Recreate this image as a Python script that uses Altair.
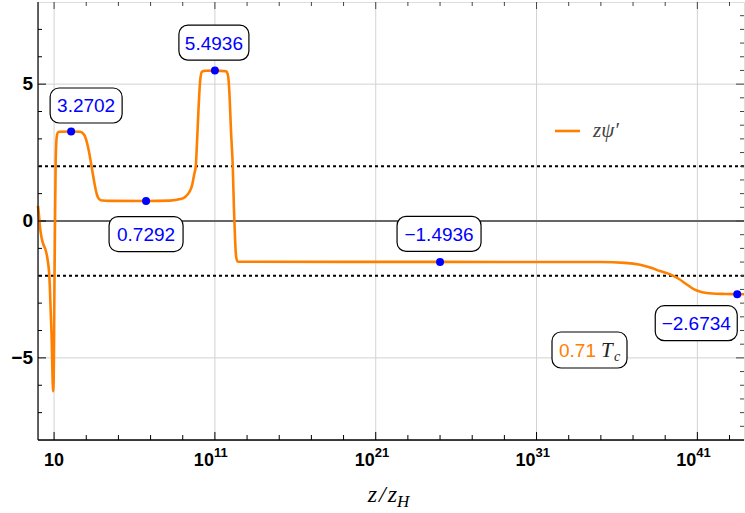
import altair as alt
import pandas as pd

# --- curve: log10(z/z_H) and z*psi' ---------------------------------------
log_z = [0.0, 0.07, 0.13, 0.22, 0.33, 0.44, 0.58, 0.71, 0.79, 0.86, 0.9, 0.95,
         0.99, 1.02, 1.06, 1.1, 1.16, 1.22, 1.31, 2.06, 2.62, 2.87, 3.05, 3.18,
         3.3, 3.43, 3.55, 3.67, 3.8, 3.99, 4.48, 6.72, 8.21, 8.84, 9.15, 9.4,
         9.58, 9.71, 9.81, 9.89, 9.99, 10.08, 10.19, 10.39, 11.0, 11.7, 11.82,
         11.91, 12.0, 12.11, 12.19, 12.26, 12.32, 12.41, 12.57, 25.0, 34.95,
         36.5, 37.44, 38.07, 38.69, 39.31, 39.81, 40.3, 40.8, 41.3, 41.92,
         42.73, 43.48, 43.9]
z_psi = [0.55, 0.15, -0.25, -0.6, -0.85, -1.0, -1.35, -2.07, -3.3, -4.5, -5.6,
         -6.22, -5.0, -2.5, 0.0, 2.2, 3.05, 3.22, 3.26, 3.2702, 3.26, 3.15,
         2.85, 2.5, 2.1, 1.65, 1.25, 0.95, 0.8, 0.75, 0.735, 0.7292, 0.745,
         0.8, 0.88, 1.05, 1.3, 1.7, 2.0, 2.9, 4.2, 5.1, 5.45, 5.49, 5.4936,
         5.47, 5.3, 4.6, 3.3, 2.0, 0.35, -0.75, -1.3, -1.48, -1.49, -1.4936,
         -1.5, -1.53, -1.6, -1.7, -1.83, -1.95, -2.1, -2.3, -2.5, -2.6, -2.65,
         -2.665, -2.6734, -2.675]

# --- marked plateau values ---------------------------------------------------
mark_log_z = [2.06, 6.72, 11.0, 25.0, 43.48]
mark_val = [3.2702, 0.7292, 5.4936, -1.4936, -2.6734]
mark_text = ["3.2702", "0.7292", "5.4936", "\u22121.4936", "\u22122.6734"]

# --- reference lines and frame ticks ----------------------------------------
ref_lines = [2, -2]
grid_y = [-5, 5]
x_major = [1, 11, 21, 31, 41]
x_exponent = ["", "11", "21", "31", "41"]
x_minor = [3, 5, 7, 9, 13, 15, 17, 19, 23, 25, 27, 29, 33, 35, 37, 39, 43]
y_major = [-5, 0, 5]
y_major_text = ["\u22125", "0", "5"]
y_minor_left = [-7, -6, -4, -3, -2, -1, 1, 2, 3, 4, 6, 7]
y_minor_right = [-7.5, -7, -6.5, -6, -5.5, -4.5, -4, -3.5, -3, -2.5, -2, -1.5,
                 -1, -0.5, 0.5, 1, 1.5, 2, 2.5, 3, 3.5, 4, 4.5, 5.5, 6, 6.5,
                 7, 7.5]

W, H = 706, 438
ORANGE = "#FF8000"
BLUE = "#0000FF"
SANS = "Liberation Sans"
SERIF = "Liberation Serif"

xs = alt.Scale(domain=[0, 43.9], nice=False, zero=False)
ys = alt.Scale(domain=[-8, 8], nice=False, zero=False)
X = alt.X("e:Q", scale=xs, axis=None)
Y = alt.Y("v:Q", scale=ys, axis=None)

curve = pd.DataFrame({"e": log_z, "v": z_psi})
marks = pd.DataFrame({"e": mark_log_z, "v": mark_val, "t": mark_text})
one = pd.DataFrame({"k": [0]})

layers = []

# grid
layers.append(alt.Chart(pd.DataFrame({"e": x_major})).mark_rule(
    color="#d2d2d2", strokeWidth=1).encode(x=X))
layers.append(alt.Chart(pd.DataFrame({"v": grid_y})).mark_rule(
    color="#d2d2d2", strokeWidth=1).encode(y=Y))
# zero line
layers.append(alt.Chart(pd.DataFrame({"v": [0]})).mark_rule(
    color="#666666", strokeWidth=2).encode(y=Y))
# dotted reference lines
layers.append(alt.Chart(pd.DataFrame({"v": ref_lines})).mark_rule(
    color="black", strokeWidth=2, strokeDash=[3, 3]).encode(y=Y))

# curve and marked points
layers.append(alt.Chart(curve).mark_line(
    color=ORANGE, strokeWidth=2.6, interpolate="monotone").encode(x=X, y=Y))
layers.append(alt.Chart(marks).mark_point(
    filled=True, color=BLUE, opacity=1, size=64).encode(x=X, y=Y))

# value boxes
box_dx = [15, 0, -1, -1, -41]
box_dy = [-26, 33, -28, -28, 29]
box_w = [72, 74, 70, 84, 82]
box_h = 35
for i in range(len(mark_val)):
    row = marks.iloc[[i]]
    dx, dy, w = box_dx[i], box_dy[i], box_w[i]
    layers.append(alt.Chart(row).mark_rect(
        fill="white", stroke="black", strokeWidth=1.2, cornerRadius=9,
        xOffset=dx - w / 2, x2Offset=dx + w / 2,
        yOffset=dy - box_h / 2, y2Offset=dy + box_h / 2,
    ).encode(x=X, x2="e:Q", y=Y, y2="v:Q"))
    layers.append(alt.Chart(row).mark_text(
        dx=dx, dy=dy + 1, fontSize=19, font=SANS, color=BLUE,
        baseline="middle", align="center",
    ).encode(x=X, y=Y, text="t:N"))

# frame
layers.append(alt.Chart(one).mark_rule(color="black", strokeWidth=1.5).encode(
    x=alt.value(0), x2=alt.value(W), y=alt.value(H)))
layers.append(alt.Chart(one).mark_rule(color="black", strokeWidth=1.2).encode(
    x=alt.value(0), y=alt.value(0), y2=alt.value(H)))

# frame ticks
xmaj = pd.DataFrame({"e": x_major, "p": x_exponent})
xmin = pd.DataFrame({"e": x_minor})
for df, ln in ((xmaj, 8), (xmin, 5)):
    layers.append(alt.Chart(df).mark_rule(color="black", strokeWidth=1).encode(
        x=X, y=alt.value(H), y2=alt.value(H - ln)))
    layers.append(alt.Chart(df).mark_rule(color="#444", strokeWidth=1).encode(
        x=X, y=alt.value(0), y2=alt.value(ln - 1)))
ymaj = pd.DataFrame({"v": y_major, "t": y_major_text})
layers.append(alt.Chart(ymaj).mark_rule(color="black", strokeWidth=1).encode(
    y=Y, x=alt.value(0), x2=alt.value(8)))
layers.append(alt.Chart(pd.DataFrame({"v": y_minor_left})).mark_rule(
    color="black", strokeWidth=1).encode(y=Y, x=alt.value(0), x2=alt.value(4)))
layers.append(alt.Chart(ymaj).mark_rule(color="#444", strokeWidth=1).encode(
    y=Y, x=alt.value(W), x2=alt.value(W - 8)))
layers.append(alt.Chart(pd.DataFrame({"v": y_minor_right})).mark_rule(
    color="#444", strokeWidth=1).encode(y=Y, x=alt.value(W), x2=alt.value(W - 4)))

# tick labels
layers.append(alt.Chart(ymaj).mark_text(
    align="right", baseline="middle", fontSize=19, fontWeight="bold",
    font=SANS, color="black", dx=-5).encode(x=alt.value(0), y=Y, text="t:N"))
layers.append(alt.Chart(xmaj.iloc[[0]]).mark_text(
    align="center", baseline="alphabetic", fontSize=18, fontWeight="bold",
    font=SANS, color="black").encode(x=X, y=alt.value(H + 26), text=alt.value("10")))
layers.append(alt.Chart(xmaj.iloc[1:]).mark_text(
    align="right", baseline="alphabetic", fontSize=18, fontWeight="bold",
    font=SANS, color="black", dx=-1).encode(x=X, y=alt.value(H + 26), text=alt.value("10")))
layers.append(alt.Chart(xmaj.iloc[1:]).mark_text(
    align="left", baseline="alphabetic", fontSize=13, fontWeight="bold",
    font=SANS, color="black", dx=-1).encode(x=X, y=alt.value(H + 17), text="p:N"))

# axis title  z/z_H
layers.append(alt.Chart(one).mark_text(
    align="right", baseline="alphabetic", fontSize=24, fontStyle="italic",
    font=SERIF, color="black").encode(
    x=alt.value(359), y=alt.value(H + 62), text=alt.value("z\u200a/\u200az")))
layers.append(alt.Chart(one).mark_text(
    align="left", baseline="alphabetic", fontSize=17, fontStyle="italic",
    font=SERIF, color="black").encode(
    x=alt.value(359), y=alt.value(H + 67), text=alt.value("H")))

# legend
layers.append(alt.Chart(one).mark_rule(color=ORANGE, strokeWidth=2.6).encode(
    x=alt.value(517), x2=alt.value(542), y=alt.value(129)))
layers.append(alt.Chart(one).mark_text(
    align="left", baseline="alphabetic", fontSize=21, fontStyle="italic",
    font=SERIF, color="#444").encode(
    x=alt.value(555), y=alt.value(135), text=alt.value("z\u03c8\u2032")))

# temperature tag
layers.append(alt.Chart(one).mark_rect(
    fill="white", stroke="black", strokeWidth=1.2, cornerRadius=9).encode(
    x=alt.value(514), x2=alt.value(589), y=alt.value(330), y2=alt.value(366)))
layers.append(alt.Chart(one).mark_text(
    align="left", baseline="alphabetic", fontSize=19, font=SANS,
    color=ORANGE).encode(x=alt.value(521), y=alt.value(355), text=alt.value("0.71")))
layers.append(alt.Chart(one).mark_text(
    align="left", baseline="alphabetic", fontSize=21, fontStyle="italic",
    font=SERIF, color="#222").encode(x=alt.value(563), y=alt.value(355), text=alt.value("T")))
layers.append(alt.Chart(one).mark_text(
    align="left", baseline="alphabetic", fontSize=14, fontStyle="italic",
    font=SERIF, color="#222").encode(x=alt.value(576), y=alt.value(359), text=alt.value("c")))

chart = alt.layer(*layers).properties(
    width=W, height=H,
    autosize=alt.AutoSizeParams(type="none"),
    padding={"left": 38, "top": 2, "right": 1, "bottom": 73},
).configure_view(stroke="#555", strokeWidth=1).configure(background="white")

chart.save("out.html", embed_options={"renderer": "svg", "actions": False})
